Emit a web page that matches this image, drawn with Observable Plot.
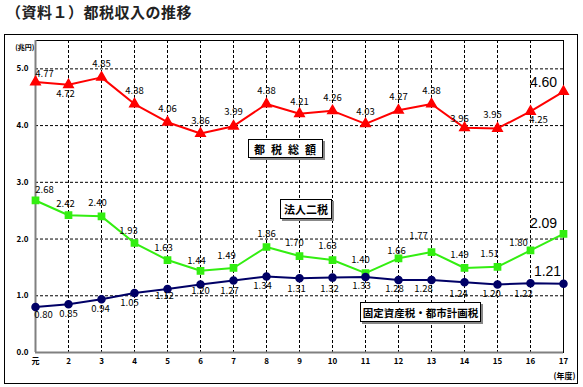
<!DOCTYPE html>
<html><head><meta charset="utf-8">
<script src="https://cdn.jsdelivr.net/npm/d3@7"></script>
<script src="https://cdn.jsdelivr.net/npm/@observablehq/plot@0.6"></script>
<style>
body{margin:0;width:583px;height:387px;position:relative;background:#fff;font-family:"Noto Sans CJK JP",sans-serif;overflow:hidden}
#title{position:absolute;left:6px;top:1px;font-size:15px;font-weight:bold;color:#222;letter-spacing:0.5px}
#frame{position:absolute;left:4px;top:34px;width:572px;height:348px;border:1.5px solid #000}
#chart{position:absolute;left:0;top:30px}
.lg{position:absolute;background:#fff;border:1px solid #000;box-shadow:2px 2px 0 #888;font-size:11px;font-weight:bold;display:flex;align-items:center;justify-content:center;box-sizing:border-box;white-space:nowrap}
</style></head>
<body>
<div id="title">（資料１）都税収入の推移</div>
<div id="frame"></div>
<div id="chart"></div>
<div class="lg" style="left:248px;top:139px;width:75px;height:19px;letter-spacing:6px;padding-left:5px">都税総額</div>
<div class="lg" style="left:280px;top:199px;width:52px;height:20px">法人二税</div>
<div class="lg" style="left:360px;top:302px;width:121px;height:20px;font-size:10.5px">固定資産税・都市計画税</div>
<script>
const years = ["元","2","3","4","5","6","7","8","9","10","11","12","13","14","15","16","17"];
const totalTax = [4.77,4.72,4.85,4.38,4.06,3.86,3.99,4.38,4.21,4.26,4.03,4.27,4.38,3.96,3.95,4.25,4.60];
const corpTax = [2.68,2.42,2.40,1.93,1.63,1.44,1.49,1.86,1.70,1.63,1.40,1.66,1.77,1.49,1.51,1.80,2.09];
const propTax = [0.80,0.85,0.94,1.05,1.12,1.20,1.27,1.34,1.31,1.32,1.33,1.28,1.28,1.24,1.20,1.22,1.21];
const yTicks = [0,1,2,3,4,5];

// label offsets (style, separate from data)
const totalDx = [9,-3,0,0,0,0,0,0,0,0,0,0,0,-5,-5,8,-20];
const totalDy = [-8,9,-13,-13,-13,-13,-14,-13,-12,-13,-12,-13,-13,-9,-13,9,-9];
const corpDx = [9,-3,-4,-6,-4,-4,-7,0,-5,-5,-5,-2,-13,-5,-8,-12,-20];
const corpDy = [-11,-11,-13,-12,-12,-10,-12,-13,-13,-14,-13,-7,-16,-13,-13,-7,-10];
const propDx = [8,0,-1,-5,-3,0,-4,-4,-3,-3,-4,-4,-8,-6,-6,-7,-16];
const propDy = [8,10,10,10,7,7,10,9,11,11,9,9,9,12,10,11,-12];

const font = "Noto Sans CJK JP";
function rows(vals){return years.map((y,i)=>({year:y,value:vals[i]}));}
function labels(vals,dxs,dys){
  return vals.map((v,i)=>{
    const last = i===vals.length-1;
    return Plot.text([{year:years[i],value:v}],{x:"year",y:"value",text:d=>d.value.toFixed(2),
      dx:dxs[i],dy:dys[i],fontSize:last?14:9.5,fill:"#000",fontFamily:last?"Liberation Sans":font});
  });
}
const R = rows(totalTax), G = rows(corpTax), B = rows(propTax);

const chart = Plot.plot({
  width:583,height:357,
  marginTop:10,marginBottom:35,marginLeft:35,marginRight:20,
  style:{fontFamily:font,background:"transparent"},
  x:{type:"point",domain:years,padding:0,label:null},
  y:{domain:[0,5.5],label:null},
  marks:[
    Plot.frame({stroke:"#000",strokeWidth:1}),
    Plot.ruleX(years.slice(1,-1),{stroke:"#000",strokeDasharray:"3,2",strokeWidth:1}),
    Plot.ruleY(yTicks.slice(1),{stroke:"#000",strokeDasharray:"3,2",strokeWidth:1}),
    Plot.ruleX([years[0]],{stroke:"#808080",strokeWidth:2}),
    Plot.ruleY([0],{stroke:"#808080",strokeWidth:2}),
    Plot.axisY({ticks:yTicks,tickFormat:d=>d.toFixed(1),tickSize:0,tickPadding:7,fontSize:8,fontWeight:"bold"}),
    Plot.axisX({tickSize:0,tickPadding:6,fontSize:8,fontWeight:"bold"}),
    Plot.text(["(兆円)"],{frameAnchor:"top-left",dx:-1,dy:5,textAnchor:"end",fontSize:7,fontWeight:"bold"}),
    Plot.text(["(年度)"],{frameAnchor:"bottom-right",dx:12,dy:26,textAnchor:"end",fontSize:8,fontWeight:"bold"}),
    Plot.line(R,{x:"year",y:"value",stroke:"#ff0000",strokeWidth:2}),
    Plot.dot(R,{x:"year",y:"value",symbol:"triangle",r:3.5,fill:"#ff0000",stroke:"#ff0000"}),
    Plot.line(G,{x:"year",y:"value",stroke:"#33ee11",strokeWidth:2}),
    Plot.dot(G,{x:"year",y:"value",symbol:"square",r:3.5,fill:"#33ee11",stroke:"#33ee11"}),
    Plot.line(B,{x:"year",y:"value",stroke:"#000066",strokeWidth:2}),
    Plot.dot(B,{x:"year",y:"value",symbol:"circle",r:3.5,fill:"#000066",stroke:"#000066"}),
    ...labels(totalTax,totalDx,totalDy),
    ...labels(corpTax,corpDx,corpDy),
    ...labels(propTax,propDx,propDy)
  ]
});
document.getElementById("chart").appendChild(chart);
</script>
</body></html>
